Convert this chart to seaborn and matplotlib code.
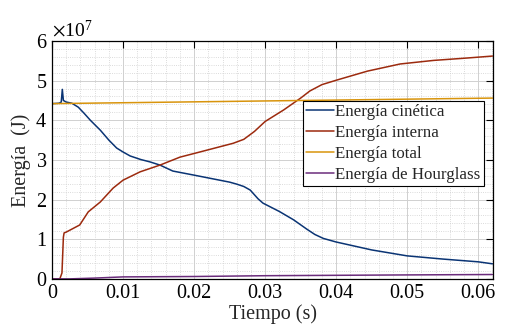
import matplotlib
matplotlib.use("Agg")
import matplotlib.pyplot as plt
from matplotlib.ticker import MultipleLocator, AutoMinorLocator, ScalarFormatter
import seaborn as sns
import numpy as np

# tiempo (s) y energias (x1e7 J)
t_cin = [0, 0.001, 0.0013, 0.00145, 0.0016, 0.002, 0.0028, 0.0037, 0.0045, 0.0054,
         0.0068, 0.0080, 0.0091, 0.010, 0.011, 0.0125, 0.0138, 0.0152, 0.017, 0.0199,
         0.025, 0.026, 0.027, 0.0279, 0.029, 0.0297, 0.032, 0.034, 0.0359, 0.037,
         0.0382, 0.040, 0.045, 0.050, 0.055, 0.060, 0.062]
e_cin = [4.42, 4.43, 4.46, 4.78, 4.50, 4.46, 4.43, 4.33, 4.18, 4.00,
         3.75, 3.50, 3.30, 3.20, 3.10, 3.01, 2.95, 2.87, 2.72, 2.62,
         2.44, 2.39, 2.33, 2.24, 2.02, 1.91, 1.70, 1.49, 1.25, 1.12,
         1.02, 0.93, 0.73, 0.58, 0.50, 0.43, 0.38]

t_int = [0, 0.0011, 0.0014, 0.0016, 0.0017, 0.002, 0.0039, 0.0051, 0.0068, 0.0086,
         0.010, 0.0124, 0.0152, 0.018, 0.0208, 0.0255, 0.027, 0.0285, 0.030, 0.0326,
         0.035, 0.0363, 0.038, 0.040, 0.0444, 0.049, 0.0537, 0.0584, 0.062]
e_int = [0, 0, 0.15, 1.05, 1.16, 1.18, 1.36, 1.69, 1.94, 2.29,
         2.49, 2.70, 2.87, 3.07, 3.20, 3.42, 3.52, 3.72, 3.97, 4.26,
         4.56, 4.74, 4.90, 5.01, 5.24, 5.42, 5.51, 5.57, 5.62]

t_tot = [0, 0.031, 0.062]
e_tot = [4.42, 4.49, 4.56]

t_hg = [0, 0.0025, 0.006, 0.010, 0.020, 0.030, 0.040, 0.050, 0.062]
e_hg = [0, 0, 0.02, 0.05, 0.06, 0.08, 0.09, 0.10, 0.11]

etiquetas = ["Energía cinética", "Energía interna", "Energía total", "Energía de Hourglass"]
colores = ["#0a3474", "#9c2a0e", "#d8940c", "#6b2c7c"]

sns.set_style("white")
plt.rcParams['font.family'] = ['Liberation Serif', 'DejaVu Serif']
plt.rcParams['mathtext.fontset'] = 'stix'

fig = plt.figure(figsize=(5.1, 3.36), dpi=100)
ax = fig.add_axes([0.102, 0.170, 0.865, 0.708])

series = [(t_cin, e_cin), (t_int, e_int), (t_tot, e_tot), (t_hg, e_hg)]
for (t, e), lab, c in zip(series, etiquetas, colores):
    sns.lineplot(x=t, y=np.array(e) * 1e7, ax=ax, color=c, lw=1.1, label=lab,
                 sort=False, estimator=None)

ax.set_xlim(0, 0.0621)
ax.set_ylim(0, 6e7)
ax.xaxis.set_major_locator(MultipleLocator(0.01))
ax.yaxis.set_major_locator(MultipleLocator(1e7))
ax.xaxis.set_minor_locator(AutoMinorLocator(5))
ax.yaxis.set_minor_locator(AutoMinorLocator(5))
fmt = ScalarFormatter(useMathText=True)
fmt.set_powerlimits((0, 0))
ax.yaxis.set_major_formatter(fmt)
ax.xaxis.set_major_formatter(matplotlib.ticker.FuncFormatter(lambda v, p: "0" if v == 0 else f"{v:g}"))

ax.grid(which='major', color='#d0d0d0', lw=0.7)
ax.grid(which='minor', color='#cfcfcf', lw=0.6, ls=':')
ax.set_axisbelow(True)
ax.tick_params(which='major', direction='in', length=5, width=0.8, top=True, right=True,
               labelsize=14.5, colors='black')
ax.tick_params(which='minor', length=0, top=True, right=True)
for s in ax.spines.values():
    s.set_color('black')
    s.set_linewidth(0.9)
ax.yaxis.get_offset_text().set_fontsize(14)

ax.set_xlabel("Tiempo (s)", fontsize=14.5, labelpad=1)
ax.set_ylabel("Energía  (J)", fontsize=14.5, labelpad=3)

leg = ax.legend(loc='upper left', bbox_to_anchor=(0.569, 0.748), fontsize=12.2,
                frameon=True, fancybox=False, edgecolor='black', framealpha=1,
                handlelength=1.6, handletextpad=0.1, labelspacing=0.28,
                borderpad=0.2, borderaxespad=0)
leg.get_frame().set_linewidth(0.8)

fig.savefig("out.png", dpi=100)
